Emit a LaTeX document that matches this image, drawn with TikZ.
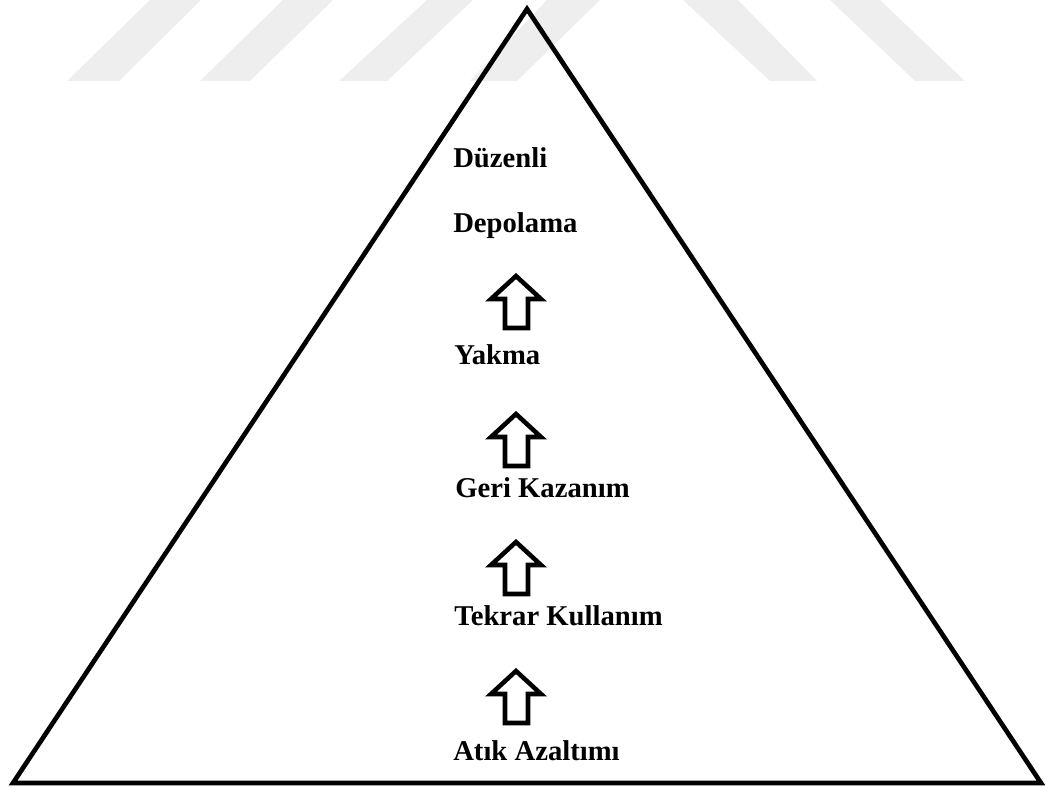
\documentclass[tikz,border=0pt]{standalone}
\usepackage{fontspec}
\setmainfont{Liberation Serif}[BoldFont={Liberation Serif Bold}]
\begin{document}
\begin{tikzpicture}[x=0.75pt,y=-0.75pt,
  stripe/.style={fill={rgb,255:red,238;green,238;blue,238},draw=none},
  outline/.style={draw=black,line width=3.5pt,line join=miter},
  txt/.style={anchor=base west,inner sep=0pt,font=\bfseries\fontsize{21.5pt}{24pt}\selectfont},
  uparrow/.pic={\draw[outline,line width=3.4pt] (0,3) -- (-25,26) -- (-11,26) -- (-11,55) -- (12,55) -- (12,26) -- (25,26) -- cycle;}
]
\useasboundingbox (0,0) rectangle (1046,788);
% watermark stripes
\fill[stripe] (67,81) -- (119,81) -- (201,0) -- (150,0) -- cycle;
\fill[stripe] (200,81) -- (250,81) -- (333,0) -- (283,0) -- cycle;
\fill[stripe] (339,81) -- (387,81) -- (473,0) -- (427,0) -- cycle;
\fill[stripe] (470,81) -- (517,81) -- (600,0) -- (547,0) -- cycle;
\fill[stripe] (683,0) -- (738,0) -- (817,81) -- (770,81) -- cycle;
\fill[stripe] (830,0) -- (880,0) -- (965,81) -- (915,81) -- cycle;
% pyramid
\coordinate (apex) at (527,9);
\coordinate (bl) at (13,783);
\coordinate (br) at (1041,783);
\draw[outline] (apex) -- (bl) -- (br) -- cycle;
% labels
\node[txt] (t1) at (453,168) {Düzenli};
\node[txt] (t2) at (453,233) {Depolama};
\node[txt] (t3) at (454,364) {Yakma};
\node[txt] (t4) at (455,497) {Geri Kazanım};
\node[txt] (t5) at (454,625) {Tekrar Kullanım};
\node[txt] (t6) at (453,760) {Atık Azaltımı};
% block arrows
\pic (a1) at (516,273) {uparrow};
\pic (a2) at (516,411) {uparrow};
\pic (a3) at (516,539) {uparrow};
\pic (a4) at (516,668) {uparrow};
\end{tikzpicture}
\end{document}
